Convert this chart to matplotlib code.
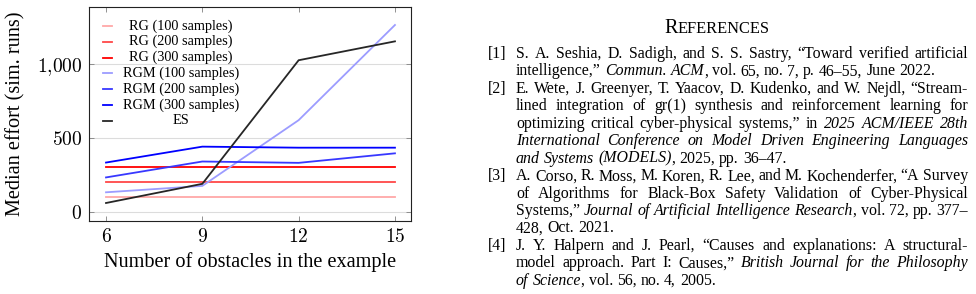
import matplotlib
matplotlib.use("Agg")
import matplotlib.pyplot as plt
from matplotlib.offsetbox import AnchoredOffsetbox, DrawingArea, VPacker
from matplotlib.lines import Line2D
from matplotlib.text import Text
from matplotlib.ticker import FuncFormatter

plt.rcParams['font.family'] = ['Liberation Serif', 'DejaVu Serif']
plt.rcParams['mathtext.fontset'] = 'cm'

# data
obstacles = [6, 9, 12, 15]
rg_100 = [105, 105, 105, 105]
rg_200 = [205, 205, 205, 205]
rg_300 = [305, 305, 305, 305]
rgm_100 = [135, 178, 620, 1260]
rgm_200 = [235, 342, 333, 397]
rgm_300 = [335, 442, 435, 435]
es = [63, 192, 1023, 1150]

series = [rg_100, rg_200, rg_300, rgm_100, rgm_200, rgm_300, es]
labels = ["RG (100 samples)", "RG (200 samples)", "RG (300 samples)",
          "RGM (100 samples)", "RGM (200 samples)", "RGM (300 samples)", "ES"]
colors = ["#ffa8a8", "#ff4848", "#ff0000", "#9c9cff", "#3838ff", "#0000ff", "#262626"]
yticks = [0, 500, 1000]
xticks = [6, 9, 12, 15]

# bibliography on the right ('|' toggles italics)
references = [
    ["S. A. Seshia, D. Sadigh, and S. S. Sastry, \u201cToward verified artificial",
     "intelligence,\u201d |Commun. ACM|, vol. 65, no. 7, p. 46\u201355, June 2022."],
    ["E. Wete, J. Greenyer, T. Yaacov, D. Kudenko, and W. Nejdl, \u201cStream-",
     "lined integration of gr(1) synthesis and reinforcement learning for",
     "optimizing critical cyber-physical systems,\u201d in |2025 ACM/IEEE 28th|",
     "|International Conference on Model Driven Engineering Languages|",
     "|and Systems (MODELS)|, 2025, pp. 36\u201347."],
    ["A. Corso, R. Moss, M. Koren, R. Lee, and M. Kochenderfer, \u201cA Survey",
     "of Algorithms for Black-Box Safety Validation of Cyber-Physical",
     "Systems,\u201d |Journal of Artificial Intelligence Research|, vol. 72, pp. 377\u2013",
     "428, Oct. 2021."],
    ["J. Y. Halpern and J. Pearl, \u201cCauses and explanations: A structural-",
     "model approach. Part I: Causes,\u201d |British Journal for the Philosophy|",
     "|of Science|, vol. 56, no. 4, 2005."],
]

W, H = 976, 294
fig = plt.figure(figsize=(W / 100, H / 100), dpi=100)
ax = fig.add_axes([89 / W, 1 - 221 / H, 322 / W, 214 / H])

for vals, col in zip(series, colors):
    ax.plot(obstacles, vals, color=col, lw=1.3, solid_joinstyle='miter')

ax.set_xlim(5.47, 15.5)
ax.set_ylim(-58, 1381)
ax.set_xticks(xticks)
ax.set_yticks(yticks)
ax.xaxis.set_major_formatter(FuncFormatter(lambda v, p: r"$%d$" % v))
ax.yaxis.set_major_formatter(FuncFormatter(lambda v, p: r"$%s$" % format(int(v), ",").replace(",", "{,}")))
ax.tick_params(direction='in', top=True, right=True, length=3.5, width=0.6,
               color='#808080', labelsize=14)
ax.tick_params(axis='x', pad=5)
ax.tick_params(axis='y', pad=5)
ax.grid(axis='y', color='#dcdcdc', lw=0.8)
ax.set_axisbelow(True)
for s in ax.spines.values():
    s.set_linewidth(0.8)
    s.set_color('#222222')

ax.set_xlabel("Number of obstacles in the example", fontsize=14.6, va='center')
ax.xaxis.set_label_coords(0.5, -0.19)
ax.set_ylabel("Median effort (sim. runs)", fontsize=14.6, va='center')
ax.yaxis.set_label_coords(-0.226, 0.5)

# legend with centred labels, pgfplots style
rows = []
for lab, col in zip(labels, colors):
    da = DrawingArea(114, 11.4)
    da.add_artist(Line2D([0, 6.5], [5.7, 5.7], color=col, lw=1.3))
    da.add_artist(Text(56, 5.7, lab, ha='center', va='center', fontsize=10.3))
    rows.append(da)
box = AnchoredOffsetbox(loc='upper left', child=VPacker(children=rows, pad=0, sep=0),
                        pad=0, borderpad=0, frameon=False,
                        bbox_to_anchor=(14 / 322, 1 - 11 / 214), bbox_transform=ax.transAxes)
ax.add_artist(box)

# references column
renderer = fig.canvas.get_renderer()
fs = 11.4
x_lab, x_txt, x_right = 488, 516, 968
y_first, line_h = 58, 17.45


def fx(px):
    return px / W


def fy(py):
    return 1 - py / H


def width_of(s, italic=False, size=fs):
    t = fig.text(0, 0, s, fontsize=size, style='italic' if italic else 'normal')
    w = t.get_window_extent(renderer).width
    t.remove()
    return w


space_w = width_of("x x") - width_of("xx")


def split_words(line):
    words, runs, cur, it = [], [], "", False
    for ch in line + " ":
        if ch == '|':
            if cur:
                runs.append((cur, it))
            cur, it = "", not it
        elif ch == ' ':
            if cur:
                runs.append((cur, it))
            cur = ""
            if runs:
                words.append(runs)
            runs = []
        else:
            cur += ch
    return words


def draw_line(line, y, justify):
    words = split_words(line)
    widths = [[width_of(s, i) for s, i in w] for w in words]
    total = sum(sum(w) for w in widths)
    gap = space_w
    if justify and len(words) > 1:
        gap = (x_right - x_txt - total) / (len(words) - 1)
    x = x_txt
    for w, ws in zip(words, widths):
        for (s, i), rw in zip(w, ws):
            fig.text(fx(x), fy(y), s, fontsize=fs, style='italic' if i else 'normal',
                     va='baseline', ha='left')
            x += rw
        x += gap


# heading in small caps
big, small = 14.5, 11.8
w1 = width_of("R", size=big) + width_of("EFERENCES", size=small)
hx = 717 - w1 / 2
fig.text(fx(hx), fy(33), "R", fontsize=big, va='baseline')
fig.text(fx(hx + width_of("R", size=big)), fy(33), "EFERENCES", fontsize=small, va='baseline')

y = y_first
for n, ref in enumerate(references, 1):
    fig.text(fx(x_lab), fy(y), "[%d]" % n, fontsize=fs, va='baseline')
    for k, line in enumerate(ref):
        draw_line(line, y, k < len(ref) - 1)
        y += line_h

fig.savefig("out.png", dpi=100)
